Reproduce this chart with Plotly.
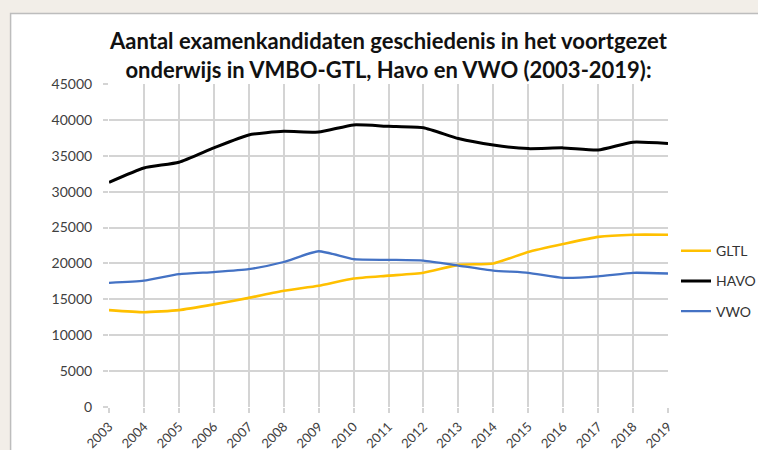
import plotly.graph_objects as go

years = list(range(2003, 2020))
gltl = [13500, 13200, 13500, 14300, 15200, 16200, 16900, 17900, 18300, 18700,
        19800, 20000, 21600, 22700, 23700, 24000, 24000]
havo = [31300, 33300, 34100, 36100, 37900, 38400, 38300, 39300, 39100, 38900,
        37400, 36500, 36000, 36100, 35800, 36900, 36700]
vwo = [17300, 17600, 18500, 18800, 19200, 20200, 21700, 20600, 20500, 20400,
       19700, 19000, 18700, 18000, 18200, 18700, 18600]

W, H = 758, 450
L, R, T, B = 108.5, 90, 83.5, 43
pw, ph = W - L - R, H - T - B

def px2x(p):
    return (p - L) / pw

def py2y(p):
    return (H - B - p) / ph

fig = go.Figure()
series = [("GLTL", gltl, "#FFC000", 2.6), ("HAVO", havo, "#000000", 3.0), ("VWO", vwo, "#4472C4", 2.3)]
for name, vals, col, w in series:
    fig.add_trace(go.Scatter(x=years, y=vals, name=name, mode="lines", legendgroup=name,
                             line=dict(color=col, width=w, shape="spline", smoothing=0.5)))

fig.update_layout(
    width=W, height=H,
    margin=dict(l=L, r=R, t=T, b=B, pad=0, autoexpand=False),
    paper_bgcolor="#F2EEE8",
    plot_bgcolor="rgba(0,0,0,0)",
    font=dict(family="Lato", size=14, color="#404040"),
    title=dict(text="Aantal examenkandidaten geschiedenis in het voortgezet<br>onderwijs in VMBO-GTL, Havo en VWO (2003-2019):",
               x=0.5, xref="paper", xanchor="center", y=1 - 49 / H, yref="container", yanchor="top",
               font=dict(family="Lato", size=22, color="#111111", weight=700)),
    legend=dict(x=px2x(676), xanchor="left", y=py2y(281), yanchor="middle",
                font=dict(family="Lato", size=14, color="#333333"), tracegroupgap=9,
                bgcolor="rgba(0,0,0,0)"),
    showlegend=True,
    shapes=[dict(type="rect", xref="paper", yref="paper", layer="below",
                 x0=px2x(10), x1=px2x(775), y0=py2y(470), y1=py2y(13),
                 fillcolor="#FFFFFF", line=dict(color="#BDBDBD", width=1.5))],
)
fig.update_xaxes(range=[2003, 2019], dtick=1, tick0=2003, tickangle=-45, automargin=False,
                 showgrid=True, gridcolor="#D4D4D4", gridwidth=1.5, zeroline=False,
                 ticks="outside", ticklen=5, tickcolor="#D4D4D4", tickwidth=1.5,
                 ticklabelstandoff=1,
                 tickfont=dict(family="Lato", size=13, color="#404040"))
fig.update_yaxes(range=[0, 45000], dtick=5000, tickformat="d", automargin=False,
                 showgrid=True, gridcolor="#D4D4D4", gridwidth=1.5, zeroline=False,
                 ticks="outside", ticklen=5, tickcolor="#D4D4D4", tickwidth=1.5,
                 ticklabelstandoff=8,
                 tickfont=dict(family="Lato", size=14, color="#404040"))

fig.write_html("out.html", config={"displayModeBar": False},
               post_script="document.body.style.margin='0';document.body.style.overflow='hidden';")
